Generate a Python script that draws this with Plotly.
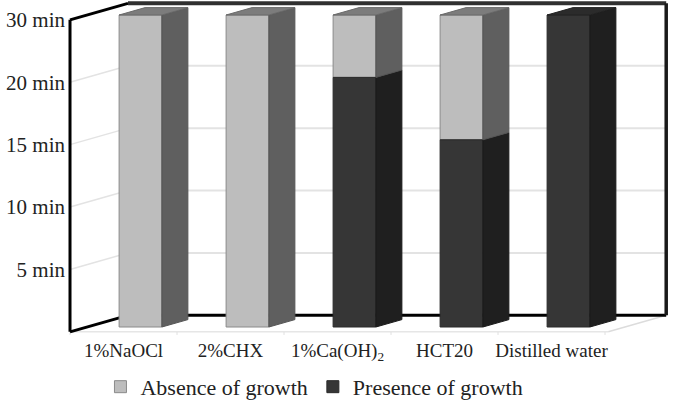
import numpy as np
import plotly.graph_objects as go

# ---------------- data ----------------
categories = ["1%NaOCl", "2%CHX", "1%Ca(OH)<sub>2</sub>", "HCT20", "Distilled water"]
presence_min = [0, 0, 20, 15, 30]      # presence of growth (dark segment), minutes
absence_min = [30, 30, 10, 15, 0]      # absence of growth (light segment), minutes
tick_minutes = [5, 10, 15, 20, 30]
tick_labels = ["5 min", "10 min", "15 min", "20 min", "30 min"]

# ---------------- styles ----------------
FONT = "Liberation Serif, Times New Roman, serif"
LIGHT_FRONT, LIGHT_SIDE, LIGHT_TOP = "#bdbdbd", "#5f5f5f", "#7c7c7c"
DARK_FRONT, DARK_SIDE, DARK_TOP = "#363636", "#1f1f1f", "#2b2b2b"
BAR_W = 0.4
DX, DY = 0.542, 0.2644        # oblique shift for full depth (data units)
D_FRONT_WALL, D_BAR, D_BACK_WALL = -0.293, 0.448, 0.707
X_LEFT, X_RIGHT = -0.5, 4.53

levels = list(range(len(tick_minutes) + 1))


def to_level(m):
    return float(np.interp(m, [0] + tick_minutes, levels))


def proj(x, y, d):
    return x + d * DX, y + d * DY


n = len(categories)
xs = list(range(n))
pres_lv = [to_level(p) for p in presence_min]
top_lv = [to_level(p + a) for p, a in zip(presence_min, absence_min)]

fig = go.Figure()

# front faces (bars)
fig.add_trace(go.Bar(
    x=xs, y=[t - p if t - p > 0 else None for p, t in zip(pres_lv, top_lv)],
    base=pres_lv, width=BAR_W, name="Absence of growth",
    marker=dict(color=LIGHT_FRONT, line=dict(color="#8a8a8a", width=1)),
))
fig.add_trace(go.Bar(
    x=xs, y=[p if p > 0 else None for p in pres_lv],
    base=[0] * n, width=BAR_W, name="Presence of growth",
    marker=dict(color=DARK_FRONT, line=dict(color="#2a2a2a", width=1)),
))


def poly(pts, color, line_color):
    px = [p[0] for p in pts] + [pts[0][0]]
    py = [p[1] for p in pts] + [pts[0][1]]
    fig.add_trace(go.Scatter(x=px, y=py, mode="lines", fill="toself",
                             fillcolor=color, line=dict(color=line_color, width=1),
                             hoverinfo="skip", showlegend=False))


# side and top faces from data
for i in xs:
    xr = i + BAR_W / 2
    xl = i - BAR_W / 2
    segs = [(0, pres_lv[i], DARK_SIDE, "#1a1a1a"), (pres_lv[i], top_lv[i], LIGHT_SIDE, "#555555")]
    for y0, y1, c, lc in segs:
        if y1 - y0 <= 0:
            continue
        poly([(xr, y0), proj(xr, y0, D_BAR), proj(xr, y1, D_BAR), (xr, y1)], c, lc)
    top_is_light = top_lv[i] > pres_lv[i]
    tc = LIGHT_TOP if top_is_light else DARK_TOP
    t = top_lv[i]
    poly([(xl, t), proj(xl, t, D_BAR), proj(xr, t, D_BAR), (xr, t)], tc,
         "#6a6a6a" if top_is_light else "#222222")

# invisible trace that activates the tick axis
fig.add_trace(go.Scatter(x=[0], y=[0], yaxis="y2", mode="markers", marker=dict(opacity=0),
                         showlegend=False, hoverinfo="skip"))

# ---------------- walls (decoration) ----------------
shapes = []
top = levels[-1]
fl_b = proj(X_LEFT, 0, D_FRONT_WALL)
fl_t = proj(X_LEFT, top, D_FRONT_WALL)
bl_b = proj(X_LEFT, 0, D_BACK_WALL)
bl_t = proj(X_LEFT, top, D_BACK_WALL)
br_b = proj(X_RIGHT, 0, D_BACK_WALL)
br_t = proj(X_RIGHT, top, D_BACK_WALL)
fr_b = proj(X_RIGHT, 0, D_FRONT_WALL)


def line(p0, p1, color, width):
    shapes.append(dict(type="line", xref="x", yref="y", x0=p0[0], y0=p0[1], x1=p1[0], y1=p1[1],
                       line=dict(color=color, width=width), layer="below"))


# gridlines
for k in levels[1:-1]:
    line(proj(X_LEFT, k, D_FRONT_WALL), proj(X_LEFT, k, D_BACK_WALL), "#e3e3e3", 1.5)
    line(proj(X_LEFT, k, D_BACK_WALL), proj(X_RIGHT, k, D_BACK_WALL), "#e3e3e3", 2)

# floor front line with category ticks
line(fl_b, fr_b, "#e6e6e6", 1.5)
for k in range(n + 1):
    p = proj(X_LEFT + k, 0, D_FRONT_WALL)
    shapes.append(dict(type="line", xref="x", yref="y", x0=p[0], x1=p[0], y0=p[1], y1=p[1] - 0.05,
                       line=dict(color="#e0e0e0", width=1), layer="below"))
line(fr_b, br_b, "#dcdcdc", 1.5)

# dark frame
line(fl_b, fl_t, "#000000", 3)
line(fl_t, bl_t, "#000000", 3)
line(fl_b, bl_b, "#000000", 3)
line(bl_b, br_b, "#000000", 3)
line(bl_t, br_t, "#303030", 4)
line(br_t, br_b, "#1a1a1a", 3.5)

fig.update_layout(
    width=675, height=401,
    margin=dict(l=66, r=3, t=0, b=64, autoexpand=False),
    paper_bgcolor="white", plot_bgcolor="white",
    barmode="overlay", hovermode=False,
    shapes=shapes,
    font=dict(family=FONT, color="#222222"),
    xaxis=dict(range=[(66 - 140.5) / 107, (672 - 140.5) / 107], automargin=False,
               tickvals=[proj(i, 0, D_FRONT_WALL)[0] for i in xs], ticktext=categories,
               tickfont=dict(size=19, family=FONT), showgrid=False, zeroline=False, showline=False,
               ticks="", fixedrange=True),
    yaxis=dict(range=[-0.1603, 5.2404], showgrid=False, zeroline=False, showline=False,
               showticklabels=False, ticks="", fixedrange=True, automargin=False),
    yaxis2=dict(range=[-0.1603 - D_FRONT_WALL * DY, 5.2404 - D_FRONT_WALL * DY],
                overlaying="y", side="left", tickvals=levels[1:], ticktext=tick_labels,
                tickfont=dict(size=21, family=FONT), showgrid=False, zeroline=False, showline=False,
                ticks="", fixedrange=True, automargin=False),
    legend=dict(orientation="h", x=0.41, xanchor="center", y=-0.148, yanchor="middle",
                font=dict(size=22, family=FONT), traceorder="normal", itemwidth=30),
    showlegend=True,
)

fig.write_html("out.html")
